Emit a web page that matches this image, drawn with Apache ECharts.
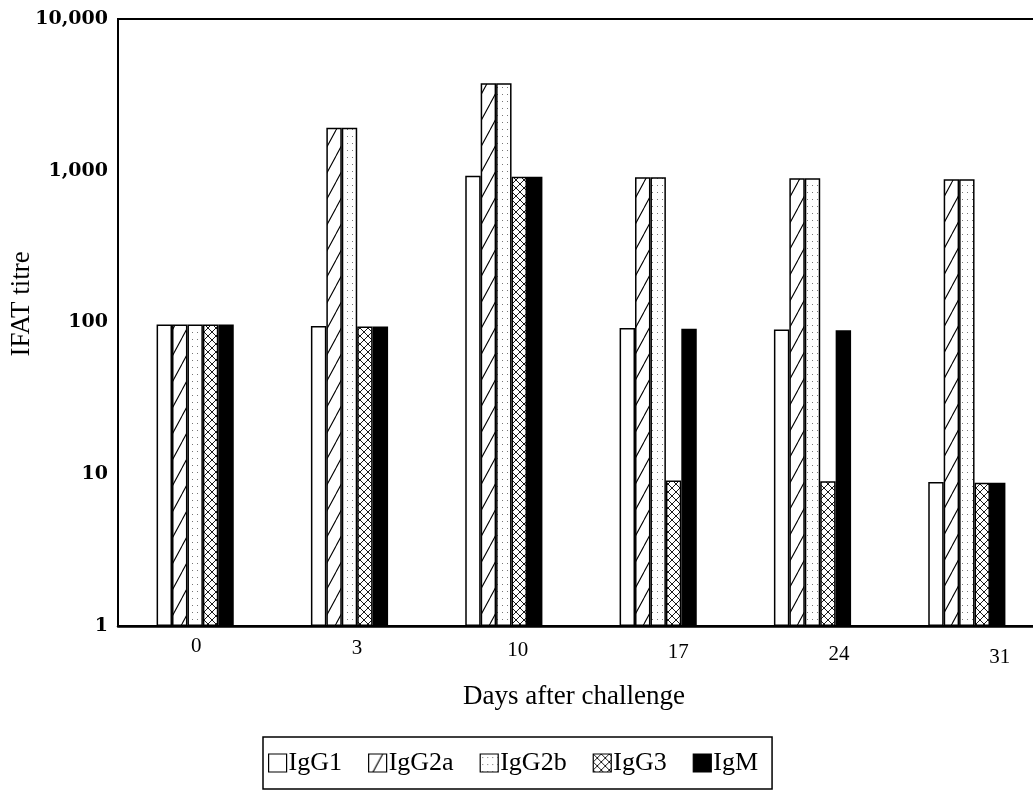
<!DOCTYPE html>
<html>
<head>
<meta charset="utf-8">
<script src="https://cdn.jsdelivr.net/npm/echarts@6/dist/echarts.min.js"></script>
<style>
html,body{margin:0;padding:0;background:#fff;}
#chart{width:1033px;height:804px;}
</style>
</head>
<body>
<div id="chart"></div>
<script>
const categories = ['0', '3', '10', '17', '24', '31'];
const seriesNames = ['IgG1', 'IgG2a', 'IgG2b', 'IgG3', 'IgM'];
const igG1  = [97, 95, 927, 92, 90, 8.9];
const igG2a = [97, 1920, 3770, 906, 892, 879];
const igG2b = [97, 1920, 3770, 906, 892, 879];
const igG3  = [97, 94, 914, 9.1, 9.0, 8.8];
const igM   = [97, 94, 914, 91, 89, 8.8];
const yTicks = [1, 10, 100, 1000, 10000];

function makeCanvas(w, h, draw) {
  const c = document.createElement('canvas');
  c.width = w; c.height = h;
  const ctx = c.getContext('2d');
  ctx.fillStyle = '#fff';
  ctx.fillRect(0, 0, w, h);
  draw(ctx, w, h);
  return c;
}
const diagPattern = makeCanvas(14, 26, (ctx, w, h) => {
  ctx.strokeStyle = '#000'; ctx.lineWidth = 1.1;
  ctx.beginPath();
  for (let k = -1; k <= 1; k++) {
    ctx.moveTo(k * w, h); ctx.lineTo(k * w + w, 0);
  }
  ctx.stroke();
});
const dotPattern = makeCanvas(5, 7, (ctx) => {
  ctx.fillStyle = '#777';
  ctx.fillRect(2, 3, 1, 1);
});
const crossPattern = makeCanvas(8, 8, (ctx, w, h) => {
  ctx.strokeStyle = '#000'; ctx.lineWidth = 0.9;
  ctx.beginPath();
  ctx.moveTo(0, 0); ctx.lineTo(w, h);
  ctx.moveTo(w, 0); ctx.lineTo(0, h);
  ctx.stroke();
});

const fills = [
  '#ffffff',
  { image: diagPattern, repeat: 'repeat' },
  { image: dotPattern, repeat: 'repeat' },
  { image: crossPattern, repeat: 'repeat' },
  '#000000'
];
const values = [igG1, igG2a, igG2b, igG3, igM];

// slight downward drift of the day labels, as in the scanned original
const labelRich = {};
categories.forEach((c, i) => {
  labelRich['r' + i] = { fontFamily: 'Liberation Serif', fontSize: 21, color: '#000', padding: [i * 2.1, 0, 0, 0] };
});

const chart = echarts.init(document.getElementById('chart'), null, { renderer: 'canvas' });
chart.setOption({
  animation: false,
  backgroundColor: '#fff',
  textStyle: { fontFamily: 'Liberation Serif', color: '#000' },
  grid: [
    { left: 118, top: 19, width: 926, bottom: 178, outerBoundsMode: 'none', containLabel: false,
      show: true, borderColor: '#000', borderWidth: 2, backgroundColor: 'transparent' },
    { left: 116, top: 19, width: 964, bottom: 178, outerBoundsMode: 'none', containLabel: false, show: false }
  ],
  legend: {
    left: 263, top: 737,
    data: seriesNames,
    icon: 'rect',
    itemWidth: 18, itemHeight: 18, itemGap: 26,
    padding: [13, 14, 13, 5],
    borderColor: '#000', borderWidth: 1.5,
    itemStyle: { borderColor: '#000', borderWidth: 1.2 },
    textStyle: { fontFamily: 'Liberation Serif', fontSize: 26, color: '#000', padding: [0, 0, 0, -3] }
  },
  graphic: [{
    type: 'text',
    x: 22, y: 304,
    rotation: Math.PI / 2,
    style: {
      text: 'IFAT titre',
      font: '27px "Liberation Serif"',
      fill: '#000',
      align: 'center',
      verticalAlign: 'middle'
    }
  }, {
    type: 'text',
    x: 574, y: 697,
    style: {
      text: 'Days after challenge',
      font: '27px "Liberation Serif"',
      fill: '#000',
      align: 'center',
      verticalAlign: 'middle'
    }
  }],
  xAxis: [{
    type: 'category',
    gridIndex: 0,
    data: categories,
    axisLine: { lineStyle: { color: '#000', width: 2.5 } },
    axisTick: { show: false },
    axisLabel: { show: false }
  }, {
    type: 'category',
    gridIndex: 1,
    data: categories,
    axisLine: { show: false },
    axisTick: { show: false },
    axisLabel: {
      fontFamily: 'Liberation Serif', fontSize: 21, color: '#000', margin: 10,
      formatter: (v, i) => '{r' + i + '|' + v + '}',
      rich: labelRich
    }
  }],
  yAxis: [{
    type: 'log',
    gridIndex: 0,
    logBase: 10,
    min: yTicks[0], max: yTicks[yTicks.length - 1],
    axisLine: { show: true, lineStyle: { color: '#000', width: 2 } },
    axisTick: { show: false },
    splitLine: { show: false },
    axisLabel: {
      fontFamily: 'DejaVu Serif', fontSize: 19, fontWeight: 'bold', color: '#000', margin: 10,
      formatter: v => Number(v).toLocaleString('en-US')
    }
  }, {
    type: 'log',
    gridIndex: 1,
    min: yTicks[0], max: yTicks[yTicks.length - 1],
    show: false
  }],
  series: seriesNames.map((name, i) => ({
    name: name,
    type: 'bar',
    xAxisIndex: 0,
    yAxisIndex: 0,
    data: values[i],
    barGap: '0%',
    barCategoryGap: '50%',
    itemStyle: { color: fills[i], borderColor: '#000', borderWidth: 1.5 }
  }))
});
</script>
</body>
</html>
